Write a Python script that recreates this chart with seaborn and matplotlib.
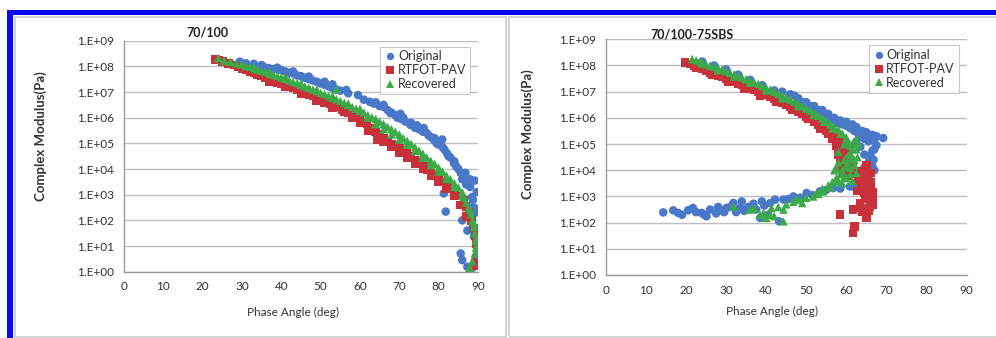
import numpy as np
import pandas as pd
import matplotlib
matplotlib.use("Agg")
import matplotlib.pyplot as plt
from matplotlib.patches import Rectangle
from matplotlib.ticker import FixedLocator, FuncFormatter
import seaborn as sns

# values: phase angle (deg) and log10 of complex modulus (Pa)
series_names = ["Original", "RTFOT-PAV", "Recovered"]
series_colors = ["#4A78C8", "#C8303A", "#3CAA48"]
series_markers = ["o", "s", "^"]

# panel 1: 70/100
p1_orig_phase = [29.5, 31, 33, 34.5, 36, 37, 38, 39, 40, 41, 42, 43, 44, 45, 46, 47, 48, 49, 50, 51,
                 52, 53, 54, 55, 56.5, 57, 59.5, 62.5, 63.5, 65, 66, 67, 67.7, 69, 70.3, 70.5, 71.5,
                 72.8, 74, 75, 76.2, 77, 78, 78.8, 79.5, 80.9, 81, 82.2, 83, 83.9, 84.5, 85.6, 86.3,
                 86.8, 87.5, 88, 89.2, 89.7, 81.3, 81.8, 86, 87.3, 88.1, 87.3, 85.6, 86, 87.3, 88.5,
                 89.4, 89, 88.7, 89.4,
                 35, 39, 43, 47, 51, 53, 61, 64, 66, 68, 69.5, 71, 73, 74.5, 76, 77.5, 79, 80,
                 81.5, 82.5, 84, 85, 86, 87, 88, 88.5, 89]
p1_orig_logG = [8.18, 8.12, 8.10, 8.0, 7.95, 7.92, 7.9, 7.88, 7.85, 7.8, 7.75, 7.72, 7.65, 7.62, 7.55,
                7.5, 7.45, 7.4, 7.33, 7.28, 7.22, 7.15, 7.1, 7.05, 7.08, 6.95, 6.88, 6.62, 6.55, 6.45,
                6.42, 6.3, 6.18, 6.1, 6.15, 5.95, 5.85, 5.72, 5.6, 5.55, 5.6, 5.4, 5.25, 5.13, 5.0,
                5.15, 4.85, 4.6, 4.45, 4.22, 4.1, 3.85, 3.7, 3.85, 3.5, 3.3, 3.55, 3.1, 3.05, 2.34,
                2.0, 1.6, 2.14, 2.55, 0.71, 0.45, 0.19, 0.13, 0.58, 1.36, 2.8, 2.3,
                8.05, 7.95, 7.8, 7.6, 7.4, 7.3, 6.7, 6.6, 6.5, 6.2, 6.0, 6.0, 5.8, 5.7, 5.45, 5.3,
                5.2, 4.95, 4.75, 4.5, 4.3, 4.0, 3.6, 3.4, 3.6, 2.9, 2.5]

p1_rtfot_phase = [23.2, 24, 25, 26.5, 28, 29, 30, 31, 32, 33, 34, 35, 36, 37, 38, 39, 40, 41, 42, 43,
                  44, 45, 46.5, 47, 48, 49, 50, 51, 52.5, 53, 55, 55.5, 57, 58, 59, 60, 61, 61.8, 63,
                  64.4, 64, 65, 66, 67, 68, 69, 70, 71.1, 72, 73, 74, 75, 76.2, 77, 78, 79, 80, 81,
                  82.2, 83, 84, 85, 86.4, 87, 87.7, 88.3, 88.8, 89.2, 89.5, 89.7, 89.8, 89.5,
                  37, 41, 45, 49, 53, 56, 58, 60, 62, 66, 68, 70, 72, 74, 76, 78, 80, 82, 84, 85.5,
                  87]
p1_rtfot_logG = [8.27, 8.25, 8.2, 8.12, 8.05, 7.98, 7.92, 7.86, 7.8, 7.75, 7.68, 7.62, 7.56, 7.5,
                 7.44, 7.38, 7.32, 7.27, 7.2, 7.15, 7.08, 7.02, 7.08, 6.9, 6.85, 6.75, 6.68, 6.6,
                 6.56, 6.5, 6.43, 6.3, 6.2, 6.1, 6.0, 5.92, 5.82, 5.78, 5.6, 5.13, 5.45, 5.35, 5.2,
                 5.1, 4.98, 4.88, 4.8, 4.74, 4.6, 4.48, 4.36, 4.25, 4.09, 3.98, 3.85, 3.72, 3.6, 3.5,
                 3.44, 3.25, 3.1, 2.95, 2.79, 2.55, 2.3, 2.0, 1.7, 1.4, 1.1, 0.8, 0.5, 0.25,
                 7.42, 7.2, 6.95, 6.68, 6.4, 6.25, 6.0, 5.8, 5.5, 5.05, 4.88, 4.62, 4.45, 4.2, 4.0,
                 3.75, 3.5, 3.25, 2.95, 2.6, 2.15]

p1_rec_phase = [24, 25.5, 27, 28.5, 30, 31, 32, 33, 34, 35, 36, 37, 38, 39, 40, 41, 42, 43, 44, 45,
                46, 47, 48, 49, 50, 51, 52, 53, 54, 54, 55, 56, 57, 58, 59, 60, 61, 62, 63, 64, 65,
                66, 67, 68, 69, 70, 71, 72, 73, 74, 75, 76, 77, 78, 79, 80, 81, 82, 83, 84, 85, 86,
                86.5, 87, 87.7, 88.2, 88.6, 89, 89.2, 89.4, 89.5, 89.4, 88.5, 87.8,
                33, 37, 41, 45, 49, 53, 57, 60, 62, 64, 66, 68, 70, 72, 74, 76, 78, 80, 82, 84, 86,
                88, 89, 89.6, 89.7]
p1_rec_logG = [8.32, 8.22, 8.18, 8.12, 8.08, 8.02, 7.98, 7.92, 7.88, 7.83, 7.78, 7.72, 7.68, 7.62,
               7.57, 7.52, 7.46, 7.4, 7.35, 7.28, 7.22, 7.16, 7.1, 7.04, 6.97, 6.92, 6.85, 6.78,
               7.1, 6.72, 6.65, 6.58, 6.5, 6.42, 6.35, 6.27, 6.2, 6.1, 6.02, 5.95, 5.85, 5.75,
               5.65, 5.55, 5.45, 5.35, 5.2, 5.1, 4.98, 4.85, 4.72, 4.6, 4.45, 4.32, 4.2, 4.05,
               3.9, 3.75, 3.6, 3.45, 3.28, 3.1, 2.9, 2.7, 2.5, 2.25, 2.0, 1.75, 1.5, 1.2, 0.95,
               0.7, 0.4, 0.15,
               7.98, 7.8, 7.6, 7.35, 7.1, 6.85, 6.55, 6.35, 6.0, 5.75, 5.55, 5.35, 5.15, 4.95,
               4.7, 4.45, 4.15, 3.9, 3.62, 3.3, 2.95, 2.4, 1.9, 1.3, 0.9]

# panel 2: 70/100-75SBS
p2_orig_phase = [24, 27, 30, 33, 36, 39, 42, 44, 46, 47, 49, 50, 51, 52, 53, 54, 55, 56, 57, 58, 59,
                 60, 61, 62, 63, 64, 64.5, 65.5, 66.5, 67, 69.2, 67.5, 66.5, 66, 65.8, 66.5, 65.5,
                 66, 65, 64, 62.5, 61.7, 60.9, 63.4, 64.5, 63.5, 62.5, 56.7, 53.4, 50.1, 46.8,
                 44.3, 42.2, 41, 38.9, 38.5, 36.8, 33.9, 33.5, 31.8, 30.1, 28.5, 26, 25.1, 23.9,
                 21.7, 20.5, 18, 16.8, 14.3, 40.5, 43.2, 34.5, 29.5, 27.5, 24.5, 31,
                 48, 50, 52, 54, 55.5, 57, 58.5, 60, 61.5, 62.5, 64, 65, 66, 67.5, 67, 66.8, 67,
                 65.5, 64.5, 63, 64.8, 58.5, 55, 51.5, 48.5, 45.5, 37.5, 39.5, 32.5, 28, 22.5, 19,
                 35.5]
p2_orig_logG = [8.15, 8.0, 7.85, 7.65, 7.45, 7.25, 7.05, 7.0, 6.9, 6.85, 6.6, 6.5, 6.45, 6.35, 6.3,
                6.15, 6.05, 5.95, 5.9, 5.8, 5.75, 5.7, 5.6, 5.5, 5.4, 5.3, 5.2, 5.1, 5.35, 5.15,
                5.23, 4.95, 4.75, 4.55, 4.35, 4.15, 4.0, 3.85, 3.7, 3.55, 3.5, 3.38, 3.38, 3.57,
                4.6, 4.9, 5.1, 3.32, 3.19, 3.13, 3.0, 2.88, 2.88, 2.75, 2.81, 2.18, 2.72, 2.81,
                2.56, 2.75, 2.56, 2.47, 2.5, 2.24, 2.37, 2.56, 2.47, 2.37, 2.47, 2.39, 2.3, 2.05,
                2.45, 2.4, 2.35, 2.3, 2.6,
                6.75, 6.6, 6.45, 6.3, 6.15, 6.0, 5.9, 5.85, 5.75, 5.65, 5.5, 5.45, 5.25, 5.3, 4.8,
                4.4, 4.0, 4.3, 4.1, 3.4, 3.45, 3.3, 3.25, 3.05, 2.95, 2.9, 2.5, 2.65, 2.4, 2.6,
                2.4, 2.3, 2.6]

p2_rtfot_phase = [19.7, 21, 22, 23, 24, 25, 26, 27, 28, 29, 30, 31, 32, 33, 34, 35, 36, 37, 38, 39,
                  40, 41, 42, 43, 44, 45, 46, 47, 48, 49, 50, 51, 52, 53, 54, 55, 56, 57, 57.8, 58.3,
                  58.7, 59, 59.2, 59.5, 60, 60.8, 62, 63.5, 64.5, 65.4, 64.6, 65.5, 66, 65.2, 66.5,
                  65.9, 63.4, 65, 61.7, 58.4, 62.1, 61.7, 64, 66.7, 65, 64.2, 63, 63.8, 65.8, 66.2,
                  64.8, 62.8,
                  22.5, 26.5, 30.5, 34.5, 38.5, 42.5, 46.5, 50.5, 53.5, 55.5, 56.5, 57.5, 58, 58.5,
                  59, 60, 61.5, 60.5, 59.5, 58.8, 64, 66.2, 65.6, 63.8, 64.3, 66.5, 65, 63]
p2_rtfot_logG = [8.12, 8.05, 7.98, 7.92, 7.86, 7.8, 7.74, 7.68, 7.62, 7.56, 7.5, 7.44, 7.38, 7.32,
                 7.26, 7.2, 7.13, 7.07, 7.0, 6.94, 6.87, 6.8, 6.73, 6.66, 6.58, 6.5, 6.42, 6.33,
                 6.24, 6.15, 6.05, 5.95, 5.85, 5.75, 5.63, 5.5, 5.38, 5.25, 5.1, 4.95, 4.78, 4.6,
                 4.42, 4.25, 4.1, 3.95, 3.85, 3.8, 3.9, 3.64, 3.13, 3.45, 3.3, 3.0, 2.85, 2.62,
                 2.75, 2.18, 2.5, 2.3, 1.86, 1.6, 2.4, 2.7, 4.2, 3.9, 3.6, 3.35, 3.1, 3.55, 2.9,
                 3.2,
                 7.9, 7.65, 7.38, 7.12, 6.85, 6.6, 6.3, 5.95, 5.6, 5.4, 5.2, 4.95, 4.6, 4.3, 4.05,
                 3.8, 4.3, 4.6, 4.9, 5.2, 3.6, 3.9, 2.45, 2.55, 3.25, 3.15, 3.75, 3.95]

p2_rec_phase = [21.5, 22.5, 23.5, 25, 26, 27, 28, 29, 30, 31, 32, 33, 34, 35, 36, 37, 38, 39, 40,
                41, 42, 43, 44, 45, 46, 47, 48, 49, 50, 51, 52, 53, 54, 55, 56, 57, 58, 59, 60,
                60.5, 61, 61.5, 61.2, 60.8, 60.3, 59.8, 59, 58.5, 57.5, 56.5, 55.5, 54.2, 53, 51.7,
                50, 48.4, 46.8, 44.3, 44.3, 41.3, 40, 39.3, 36, 31.8, 42, 38.5, 62.5, 62, 61, 60,
                59, 62.5, 57, 58, 61.5,
                24, 28, 32, 36, 40, 44, 48, 52, 54.5, 56.5, 58.5, 60, 61.5, 62.5, 62.8, 62, 61,
                59.5, 58, 56, 54, 52.5, 60.5, 59.5, 57.5, 58, 59.5, 49, 47.5, 43, 41, 37, 45, 63]
p2_rec_logG = [8.25, 8.2, 8.15, 8.05, 8.0, 7.95, 7.9, 7.85, 7.78, 7.72, 7.66, 7.6, 7.54, 7.48,
               7.42, 7.36, 7.3, 7.22, 7.15, 7.08, 7.0, 6.92, 6.85, 6.78, 6.7, 6.62, 6.55, 6.45,
               6.35, 6.28, 6.18, 6.08, 5.98, 5.88, 5.75, 5.65, 5.55, 5.4, 5.25, 5.1, 4.95, 4.8,
               4.6, 4.45, 4.3, 4.15, 4.0, 3.85, 3.7, 3.55, 3.42, 3.19, 3.1, 3.0, 2.95, 2.88, 2.8,
               2.5, 2.05, 2.56, 2.18, 2.37, 2.5, 2.62, 2.25, 2.3, 5.2, 4.4, 4.1, 3.7, 3.5, 3.9,
               4.0, 4.3, 3.6,
               8.08, 7.82, 7.58, 7.35, 7.05, 6.75, 6.45, 6.12, 5.85, 5.6, 5.4, 5.15, 5.0, 4.8,
               4.5, 4.2, 3.85, 3.75, 3.6, 3.35, 3.3, 3.1, 4.6, 4.4, 4.1, 4.7, 5.0, 2.75, 2.9,
               2.6, 2.3, 2.55, 2.7, 5.0]

panel_titles = ["70/100", "70/100-75SBS"]
x_ticks = [0, 10, 20, 30, 40, 50, 60, 70, 80, 90]
y_exponents = [0, 1, 2, 3, 4, 5, 6, 7, 8, 9]


def make_frame(phases, logs):
    rows = []
    for name, ph, lg in zip(series_names, phases, logs):
        rows.append(pd.DataFrame({"series": name, "phase": ph,
                                  "modulus": np.power(10.0, lg)}))
    return pd.concat(rows, ignore_index=True)


panel_data = [
    make_frame([p1_orig_phase, p1_rtfot_phase, p1_rec_phase],
               [p1_orig_logG, p1_rtfot_logG, p1_rec_logG]),
    make_frame([p2_orig_phase, p2_rtfot_phase, p2_rec_phase],
               [p2_orig_logG, p2_rtfot_logG, p2_rec_logG]),
]

sns.set_style("white")
plt.rcParams["font.family"] = ["Lato", "DejaVu Sans"]

fig = plt.figure(figsize=(9.96, 3.38), dpi=100)

# outer blue frame (top and left only visible) and grey panel boxes
fig.patches.append(Rectangle((7 / 996, 1 - 15 / 338), 1, 5 / 338, transform=fig.transFigure,
                             facecolor="#0A0AF0", edgecolor="none", zorder=0))
fig.patches.append(Rectangle((7 / 996, 0), 6 / 996, 1 - 10 / 338, transform=fig.transFigure,
                             facecolor="#0A0AF0", edgecolor="none", zorder=0))
fig.patches.append(Rectangle((15 / 996, 1 / 338), 491 / 996, 1 - 18 / 338, transform=fig.transFigure,
                             facecolor="none", edgecolor="#D4D4D4", linewidth=1.5, zorder=0))
fig.patches.append(Rectangle((509 / 996, 1 / 338), 0.6, 1 - 18 / 338, transform=fig.transFigure,
                             facecolor="none", edgecolor="#D4D4D4", linewidth=1.5, zorder=0))

axes_pos = [[0.1245, 0.1962, 0.3554, 0.6834], [0.6084, 0.1864, 0.3620, 0.6973]]
ylabel_xy = [(-0.2175, 0.587), (-0.2, 0.596)]
xlabel_xy = [(0.477, -0.153), (0.461, -0.132)]
title_xy = [(0.235, 1.035), (0.24, 1.02)]

palette = dict(zip(series_names, series_colors))
markers = dict(zip(series_names, series_markers))

for i, df in enumerate(panel_data):
    ax = fig.add_axes(axes_pos[i])
    sns.scatterplot(data=df, x="phase", y="modulus", hue="series", style="series",
                    hue_order=series_names, style_order=series_names,
                    palette=palette, markers=markers, s=38, linewidth=0, ax=ax)
    ax.set_yscale("log")
    ax.set_xlim(0, 90)
    ax.set_ylim(1, 1e9)
    ax.yaxis.set_major_locator(FixedLocator([10.0 ** e for e in y_exponents]))
    ax.yaxis.set_minor_locator(FixedLocator([]))
    ax.yaxis.set_major_formatter(FuncFormatter(lambda v, p: "1.E+%02d" % round(np.log10(v))))
    ax.set_xticks(x_ticks)
    ax.grid(axis="y", color="#BEBEBE", linewidth=1.0)
    ax.grid(axis="x", visible=False)
    ax.set_axisbelow(True)
    for side in ["top", "right"]:
        ax.spines[side].set_visible(False)
    for side in ["left", "bottom"]:
        ax.spines[side].set_color("#9A9A9A")
        ax.spines[side].set_linewidth(1.0)
    ax.tick_params(axis="both", which="major", direction="out", length=4, width=1,
                   color="#9A9A9A", labelsize=8.5, labelcolor="#333333", pad=3)
    ax.set_xlabel("Phase Angle (deg)", fontsize=8.5, color="#333333")
    ax.set_ylabel("Complex Modulus(Pa)", fontsize=9.5, color="#333333", fontweight="bold")
    ax.yaxis.set_label_coords(*ylabel_xy[i])
    ax.xaxis.set_label_coords(*xlabel_xy[i])
    ax.text(title_xy[i][0], title_xy[i][1], panel_titles[i], transform=ax.transAxes,
            ha="center", va="center", fontsize=9, fontweight="bold", color="#222222")
    leg = ax.legend(loc="upper right", bbox_to_anchor=(0.985, 0.985), fontsize=9,
                    frameon=True, fancybox=False, borderpad=0.3, handletextpad=0.1,
                    labelspacing=0.15, borderaxespad=0.2, markerscale=0.85,
                    handlelength=1.0, title=None)
    leg.get_frame().set_edgecolor("#BBBBBB")
    leg.get_frame().set_linewidth(0.8)
    for t in leg.get_texts():
        t.set_color("#333333")

fig.savefig("out.png", dpi=100)
